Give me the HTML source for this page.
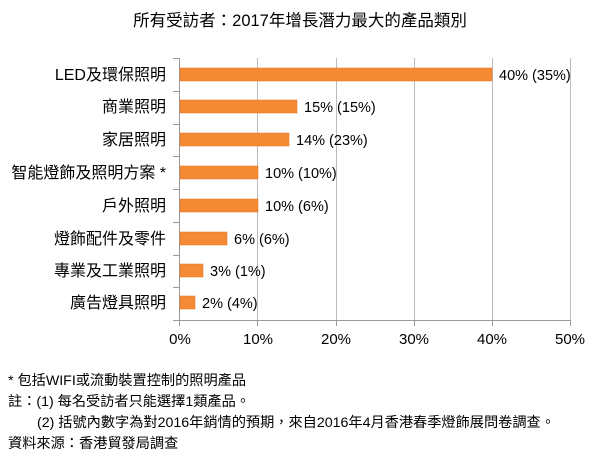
<!DOCTYPE html>
<html><head><meta charset="utf-8"><style>
body{margin:0;background:#fff;width:600px;height:467px;overflow:hidden}
svg text{font-family:"Liberation Sans","Noto Sans CJK TC",sans-serif;fill:#000}
</style></head><body>
<svg width="600" height="467" xmlns="http://www.w3.org/2000/svg">
<text x="300" y="26" font-size="16.5" text-anchor="middle">所有受訪者：2017年增長潛力最大的產品類別</text>
<g stroke="#bbb" stroke-width="1">
<line x1="257.5" y1="58" x2="257.5" y2="320"/>
<line x1="336.5" y1="58" x2="336.5" y2="320"/>
<line x1="414.5" y1="58" x2="414.5" y2="320"/>
<line x1="492.5" y1="58" x2="492.5" y2="320"/>
<line x1="570.5" y1="58" x2="570.5" y2="320"/>
</g>
<g stroke="#999" stroke-width="1">
<line x1="179.5" y1="58" x2="179.5" y2="326"/>
<line x1="173" y1="320.5" x2="571" y2="320.5"/>
<line x1="173" y1="58.5" x2="179" y2="58.5"/>
<line x1="173" y1="91.5" x2="179" y2="91.5"/>
<line x1="173" y1="124.5" x2="179" y2="124.5"/>
<line x1="173" y1="156.5" x2="179" y2="156.5"/>
<line x1="173" y1="189.5" x2="179" y2="189.5"/>
<line x1="173" y1="222.5" x2="179" y2="222.5"/>
<line x1="173" y1="255.5" x2="179" y2="255.5"/>
<line x1="173" y1="287.5" x2="179" y2="287.5"/>
<line x1="257.5" y1="320" x2="257.5" y2="326"/>
<line x1="336.5" y1="320" x2="336.5" y2="326"/>
<line x1="414.5" y1="320" x2="414.5" y2="326"/>
<line x1="492.5" y1="320" x2="492.5" y2="326"/>
<line x1="570.5" y1="320" x2="570.5" y2="326"/>
</g>
<g fill="#f58a35" stroke="#e07020" stroke-width="0.5">
<rect x="180" y="68" width="312" height="13"/>
<rect x="180" y="100" width="117" height="13"/>
<rect x="180" y="133" width="109" height="13"/>
<rect x="180" y="166" width="78" height="13"/>
<rect x="180" y="199" width="78" height="13"/>
<rect x="180" y="232" width="47" height="13"/>
<rect x="180" y="264" width="23" height="13"/>
<rect x="180" y="296" width="15" height="13"/>
</g>
<g font-size="14.5">
<text x="499" y="80">40% (35%)</text>
<text x="304" y="112">15% (15%)</text>
<text x="296" y="145">14% (23%)</text>
<text x="265" y="178">10% (10%)</text>
<text x="265" y="211">10% (6%)</text>
<text x="234" y="244">6% (6%)</text>
<text x="210" y="276">3% (1%)</text>
<text x="202" y="308">2% (4%)</text>
</g>
<g font-size="16" text-anchor="end">
<text x="166" y="80">LED及環保照明</text>
<text x="166" y="112">商業照明</text>
<text x="166" y="145">家居照明</text>
<text x="166" y="178">智能燈飾及照明方案 *</text>
<text x="166" y="211">戶外照明</text>
<text x="166" y="244">燈飾配件及零件</text>
<text x="166" y="276">專業及工業照明</text>
<text x="166" y="308">廣告燈具照明</text>
</g>
<g font-size="15" text-anchor="middle">
<text x="180" y="344">0%</text>
<text x="258" y="344">10%</text>
<text x="336" y="344">20%</text>
<text x="414" y="344">30%</text>
<text x="492" y="344">40%</text>
<text x="570" y="344">50%</text>
</g>
<g font-size="14.2">
<text x="8" y="385">* 包括WIFI或流動裝置控制的照明產品</text>
<text x="8" y="406">註：(1) 每名受訪者只能選擇1類產品。</text>
<text x="37" y="427">(2) 括號內數字為對2016年銷情的預期，來自2016年4月香港春季燈飾展問卷調查。</text>
<text x="8" y="448">資料來源：香港貿發局調查</text>
</g>
</svg>
</body></html>
